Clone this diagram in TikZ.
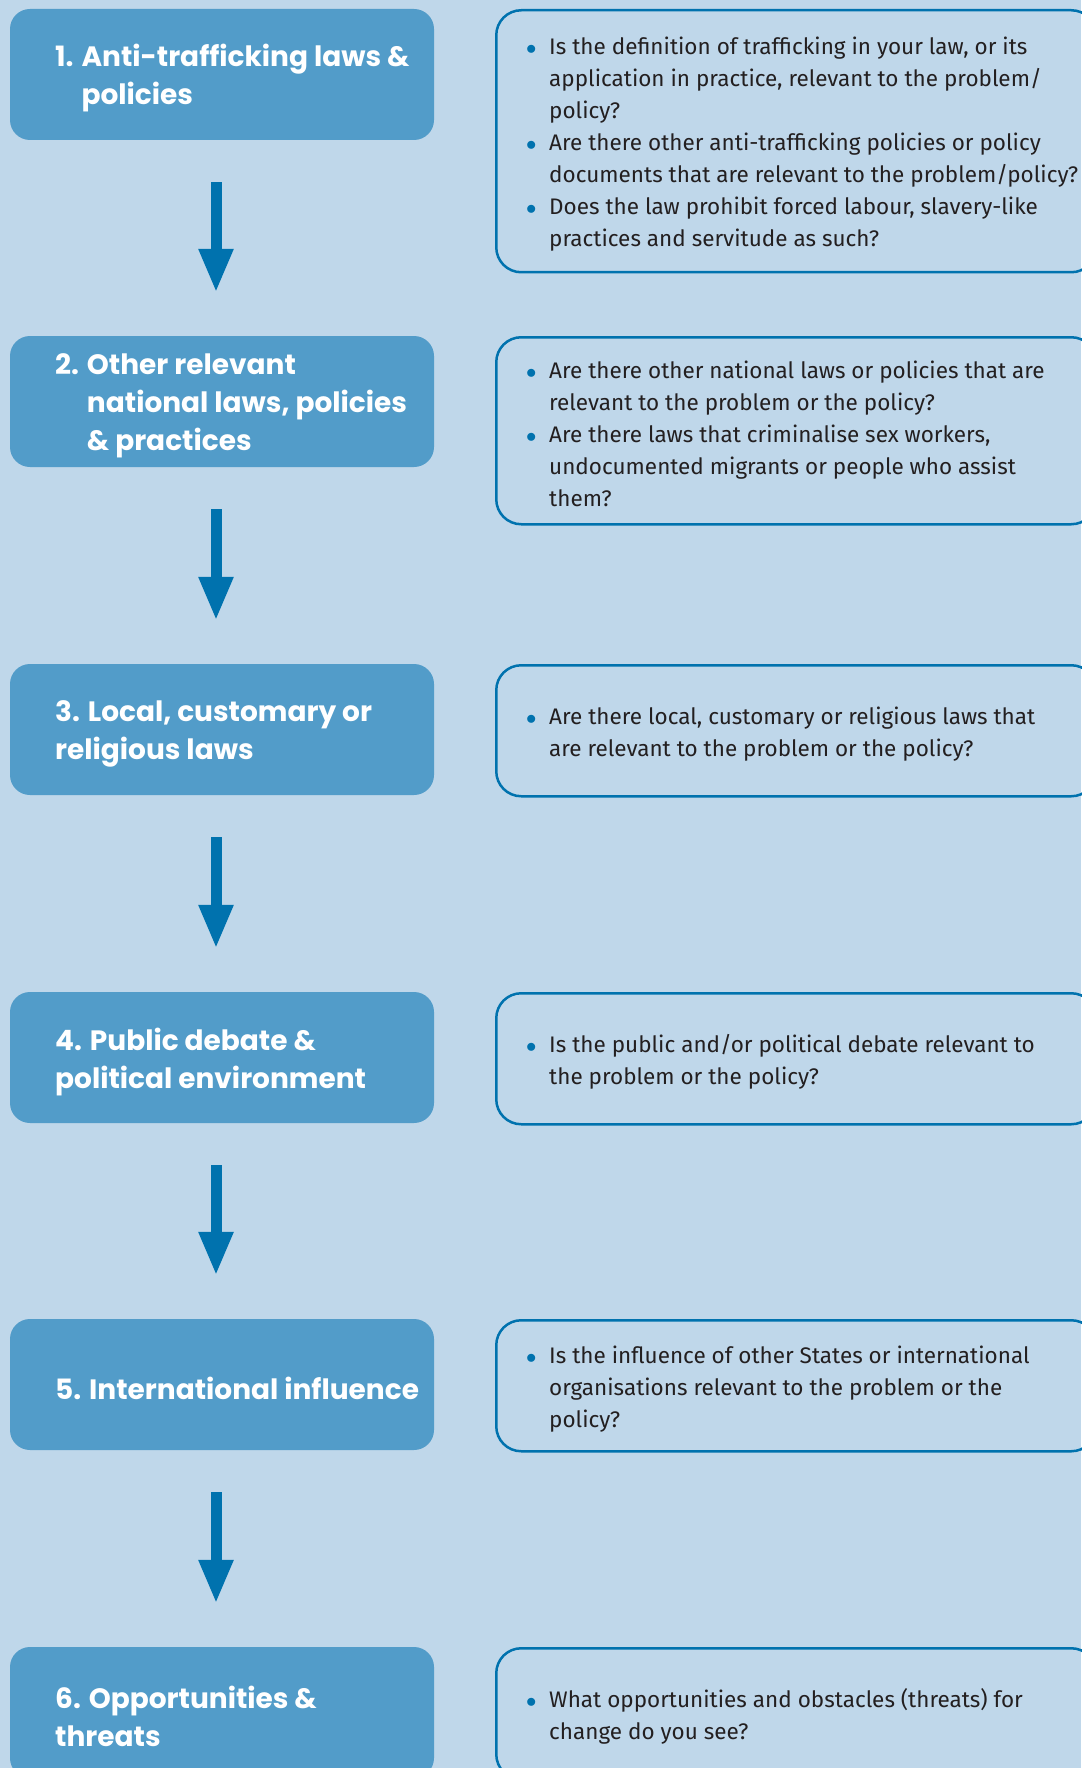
\documentclass[tikz,border=0pt]{standalone}
\usepackage{fontspec}
\setmainfont{Fira Sans}
\newfontfamily\titlefont{Poppins}
\usetikzlibrary{arrows.meta}
\pgfdeclarelayer{edgelayer}
\pgfdeclarelayer{nodelayer}
\pgfsetlayers{edgelayer,nodelayer,main}
\definecolor{bg}{HTML}{BFD7EA}
\definecolor{stepblue}{HTML}{529CC9}
\definecolor{darkblue}{HTML}{0072AE}
\definecolor{txt}{HTML}{231F20}
\tikzset{font=\fontsize{22.5}{32}\selectfont}
\tikzstyle{none}=[inner sep=0pt]
\tikzstyle{stepbox}=[rectangle,rounded corners=20pt,fill=stepblue,minimum width=424pt,minimum height=131pt,inner sep=0pt]
\tikzstyle{title}=[inner sep=0pt,anchor=west,yshift=-4pt,align=left,text=white,font=\titlefont\bfseries\fontsize{28}{38}\selectfont]
\tikzstyle{qbox}=[rectangle,rounded corners=25pt,draw=darkblue,line width=2.5pt,minimum width=600pt,minimum height=131pt,inner sep=0pt,anchor=north west]
\tikzstyle{qtext}=[inner sep=0pt,anchor=west,yshift=-3pt,align=left,text=txt]
\tikzstyle{down}=[draw=darkblue,line width=11pt,-{Triangle[width=32pt,length=44pt]},shorten <=42pt,shorten >=43pt]
\newcommand{\blt}{\makebox[18pt][l]{\hspace*{-5pt}\textcolor{darkblue}{$\bullet$}}}
\newcommand{\ind}{\hspace*{18pt}}

\begin{document}
\begin{tikzpicture}[x=1pt,y=-1pt]
	\useasboundingbox (0,0) rectangle (1081,1768);
	\begin{pgfonlayer}{nodelayer}
		% steps on the left
		\node [style=stepbox] (0) at (222, 74.5) {};
		\node [style=stepbox] (4) at (222, 401.5) {};
		\node [style=stepbox] (8) at (222, 729.5) {};
		\node [style=stepbox] (12) at (222, 1057.5) {};
		\node [style=stepbox] (16) at (222, 1384.5) {};
		\node [style=stepbox] (20) at (222, 1712.5) {};
		\node [style=title] (1) at (55, 74.5) {1. Anti-trafficking laws \&\\\phantom{1. }policies};
		\node [style=title] (5) at (55, 401.5) {2. Other relevant\\\phantom{2. }national laws, policies\\\phantom{2. }\& practices};
		\node [style=title] (9) at (55, 729.5) {3. Local, customary or\\religious laws};
		\node [style=title] (13) at (55, 1057.5) {4. Public debate \&\\political environment};
		\node [style=title] (17) at (55, 1384.5) {5. International influence};
		\node [style=title] (21) at (55, 1712.5) {6. Opportunities \&\\threats};
		% questions on the right
		\node [style=qbox, minimum height=262pt] (2) at (495, 9) {};
		\node [style=qbox, minimum height=187pt] (6) at (495, 336) {};
		\node [style=qbox] (10) at (495, 664) {};
		\node [style=qbox] (14) at (495, 992) {};
		\node [style=qbox] (18) at (495, 1319) {};
		\node [style=qbox] (22) at (495, 1647) {};
		\node [style=qtext] (3) at ([xshift=36pt]2.west) {\blt Is the definition of trafficking in your law, or its\\\ind application in practice, relevant to the problem/\\\ind policy?\\\blt Are there other anti-trafficking policies or policy\\\ind documents that are relevant to the problem/policy?\\\blt Does the law prohibit forced labour, slavery-like\\\ind practices and servitude as such?};
		\node [style=qtext] (7) at ([xshift=36pt]6.west) {\blt Are there other national laws or policies that are\\\ind relevant to the problem or the policy?\\\blt Are there laws that criminalise sex workers,\\\ind undocumented migrants or people who assist\\\ind them?};
		\node [style=qtext] (11) at ([xshift=36pt]10.west) {\blt Are there local, customary or religious laws that\\\ind are relevant to the problem or the policy?};
		\node [style=qtext] (15) at ([xshift=36pt]14.west) {\blt Is the public and/or political debate relevant to\\\ind the problem or the policy?};
		\node [style=qtext] (19) at ([xshift=36pt]18.west) {\blt Is the influence of other States or international\\\ind organisations relevant to the problem or the\\\ind policy?};
		\node [style=qtext] (23) at ([xshift=36pt]22.west) {\blt What opportunities and obstacles (threats) for\\\ind change do you see?};
	\end{pgfonlayer}
	\begin{pgfonlayer}{edgelayer}
		\fill[bg] (0,0) rectangle (1081,1768);
		\draw[style=down] ([xshift=-6pt]0.south) to ([xshift=-6pt]4.north);
		\draw[style=down] ([xshift=-6pt]4.south) to ([xshift=-6pt]8.north);
		\draw[style=down] ([xshift=-6pt]8.south) to ([xshift=-6pt]12.north);
		\draw[style=down] ([xshift=-6pt]12.south) to ([xshift=-6pt]16.north);
		\draw[style=down] ([xshift=-6pt]16.south) to ([xshift=-6pt]20.north);
	\end{pgfonlayer}
\end{tikzpicture}
\end{document}
